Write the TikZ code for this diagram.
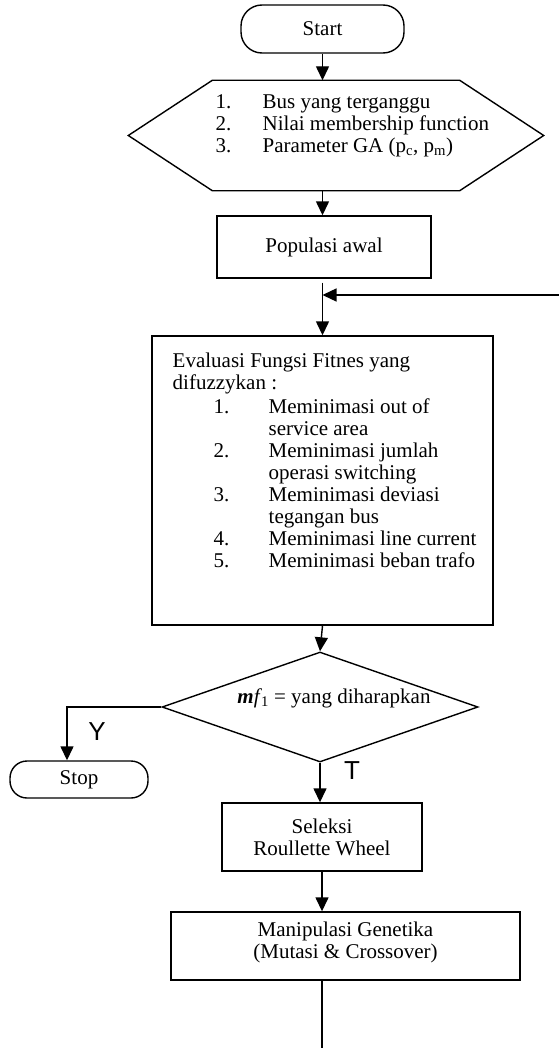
\documentclass[tikz,border=0pt]{standalone}
\usepackage{fontspec}
\setmainfont{Liberation Serif}
\newfontfamily\sansf{Liberation Sans}
\usetikzlibrary{arrows.meta,shapes.geometric,calc}
\begin{document}
\begin{tikzpicture}[x=1pt,y=-1pt,line width=1.4pt,
  every node/.style={font=\fontsize{21}{22}\selectfont},
  box/.style={draw,rectangle,inner sep=0pt,align=center},
  term/.style={draw,rectangle,inner sep=0pt},
  plain/.style={inner sep=0pt},
  arr/.style={-{Triangle[width=13pt,length=14pt]}},
  yt/.style={inner sep=0pt,font=\sansf\fontsize{26}{26}\selectfont}]
\useasboundingbox (0,0) rectangle (559,1054);
% nodes
\node[term,minimum width=163pt,minimum height=48pt,rounded corners=21pt] (start) at (322.5,29) {Start};
\node[plain,minimum width=246pt,minimum height=109pt] (input) at (336,135.5) {};
\draw ($(input.west)+(-84,0)$) -- (input.north west) -- (input.north east) -- ($(input.east)+(84,0)$) -- (input.south east) -- (input.south west) -- cycle;
\node[plain,anchor=west] (inputtext) at (215,126) {\begin{tabular}{@{}p{47pt}@{}l@{}}
1. & Bus yang terganggu\\
2. & Nilai membership function\\
3. & Parameter GA (p\textsubscript{c}, p\textsubscript{m})
\end{tabular}};
\node[box,minimum width=214pt,minimum height=62pt] (pop) at (324,247) {Populasi awal};
\node[box,minimum width=341pt,minimum height=289pt] (eval) at (322.5,480.5) {};
\node[plain,anchor=north west,align=left] (evaltext) at (172,351) {\begin{tabular}{@{}p{41pt}@{}p{55pt}@{}l@{}}
\multicolumn{3}{@{}l@{}}{Evaluasi Fungsi Fitnes yang}\\
\multicolumn{3}{@{}l@{}}{difuzzykan :}\\[2pt]
& 1. & Meminimasi out of\\
& & service area\\
& 2. & Meminimasi jumlah\\
& & operasi switching\\
& 3. & Meminimasi deviasi\\
& & tegangan bus\\
& 4. & Meminimasi line current\\
& 5. & Meminimasi beban trafo
\end{tabular}};
\node[draw,diamond,inner sep=0pt,minimum width=316pt,minimum height=110pt] (dec) at (320,707) {};
\node[plain] (dectext) at (334,698) {\textbf{\textit{m}}\textit{f}\kern-1pt\textsubscript{1} = yang diharapkan};
\node[term,minimum width=138pt,minimum height=37pt,rounded corners=17pt] (stop) at (79,779.5) {Stop};
\node[box,minimum width=200pt,minimum height=68pt] (sel) at (322,837) {Seleksi\\Roullette Wheel};
\node[box,minimum width=349pt,minimum height=68pt] (man) at (345.5,946) {Manipulasi Genetika\\(Mutasi \& Crossover)\\[-10pt]};
\node[yt] (ylab) at (97,732) {Y};
\node[yt] (tlab) at (352,771) {T};
\coordinate (fb) at (559,295);
\coordinate (ycorner) at (67,707);
\coordinate (endpt) at (322,1048);
% connectors
\draw[arr] (start.south) -- (start.south |- input.north);
\draw[arr] (start.south |- input.south) -- (start.south |- pop.north);
\draw[arr] ($(start.south |- pop.south)+(0,4)$) -- (start.south |- eval.north);
\draw[arr] (fb) -- (fb -| start.south);
\draw[arr] (start.south |- eval.south) -- (dec.north);
\draw[arr] (dec.west) -- (ycorner) -- (ycorner |- stop.north);
\draw[arr] (dec.south) -- (dec.south |- sel.north);
\draw[arr] (sel.south) -- (sel.south |- man.north);
\draw (sel.south |- man.south) -- (endpt);
\end{tikzpicture}
\end{document}
